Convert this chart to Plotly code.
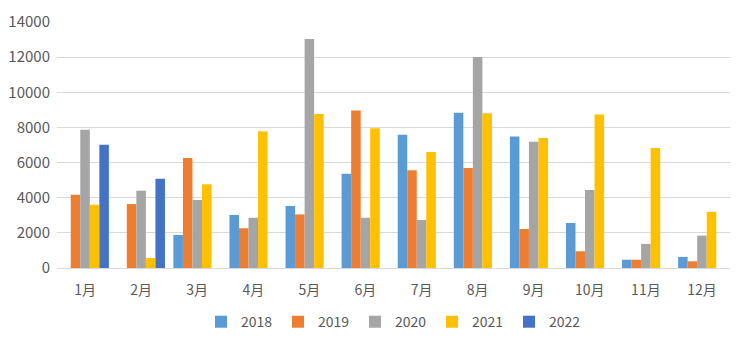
import plotly.graph_objects as go

months = ["1月", "2月", "3月", "4月", "5月", "6月", "7月", "8月", "9月", "10月", "11月", "12月"]
y2018 = [None, None, 1880, 3020, 3530, 5370, 7590, 8840, 7490, 2560, 470, 630]
y2019 = [4170, 3640, 6260, 2260, 3050, 8970, 5560, 5690, 2220, 950, 470, 380]
y2020 = [7870, 4400, 3870, 2860, 13030, 2860, 2730, 12010, 7190, 4440, 1370, 1840]
y2021 = [3600, 570, 4760, 7780, 8760, 7950, 6600, 8800, 7400, 8740, 6830, 3200]
y2022 = [7020, 5080, None, None, None, None, None, None, None, None, None, None]

series = [("2018", y2018, "#5B9BD5"), ("2019", y2019, "#ED7D31"),
          ("2020", y2020, "#A5A5A5"), ("2021", y2021, "#FFC000"),
          ("2022", y2022, "#4472C4")]

fig = go.Figure()
for name, vals, col in series:
    fig.add_trace(go.Bar(x=months, y=vals, name=name, marker=dict(color=col, line=dict(width=0))))

font = "Noto Sans CJK SC, Noto Sans, sans-serif"
fig.update_layout(
    width=738, height=347,
    margin=dict(l=57, r=8, t=22, b=79),
    paper_bgcolor="white", plot_bgcolor="white",
    barmode="group", bargap=0.15, bargroupgap=0,
    font=dict(family=font, size=14, color="#595959"),
    showlegend=True,
    legend=dict(orientation="h", x=0.5, xanchor="center", y=-0.22, yanchor="middle",
                font=dict(size=14, color="#595959"), itemwidth=30,
                entrywidth=32, entrywidthmode="pixels", traceorder="normal"),
    xaxis=dict(showgrid=False, showline=True, linecolor="#D9D9D9", linewidth=1,
               ticks="", tickfont=dict(size=14, color="#595959"), ticklabelstandoff=9),
    yaxis=dict(range=[0, 14000], dtick=2000, tickformat="d", showgrid=True, gridcolor="#D9D9D9",
               gridwidth=1, zeroline=False, showline=False, ticks="",
               tickfont=dict(size=15, color="#595959"), ticklabelstandoff=6),
)
fig.write_html("out.html")
